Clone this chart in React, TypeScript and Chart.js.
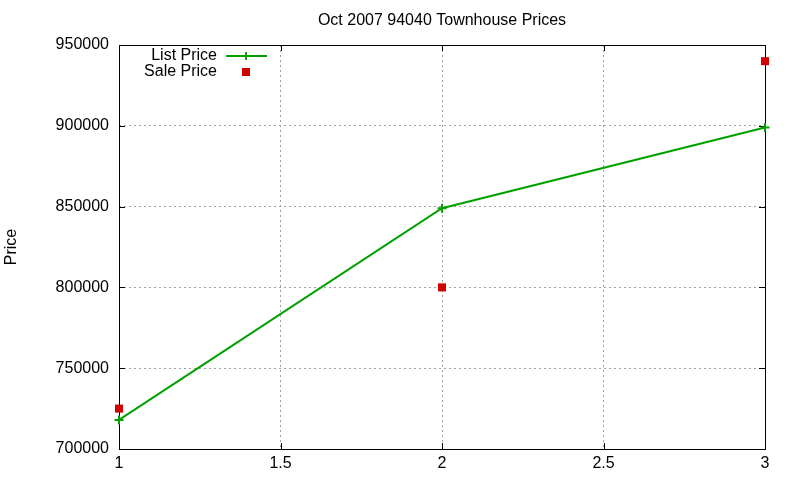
import { useEffect, useRef } from 'react';
import { Chart, registerables } from 'chart.js';

Chart.register(...registerables);

// data
const houseNumbers = [1, 2, 3];
const listPrices = [718000, 849000, 899000];
const salePrices = [725000, 800000, 940000];
const seriesNames = ['List Price', 'Sale Price'];

const titleText = 'Oct 2007 94040 Townhouse Prices';
const yTitle = 'Price';

const GREEN = '#00a000';
const RED = '#d40000';
const FONT = '"Liberation Sans", Arial, sans-serif';

// gnuplot-ish frame with inward ticks on all four sides, plus title and key
const framePlugin = {
  id: 'gnuFrame',
  beforeDatasetsDraw(chart: any) {
    const { ctx, chartArea: a, scales } = chart;
    const tl = 6;
    ctx.save();
    ctx.strokeStyle = '#000';
    ctx.lineWidth = 1;
    ctx.beginPath();
    scales.y.ticks.forEach((t: any) => {
      const y = Math.round(scales.y.getPixelForValue(t.value)) + 0.5;
      ctx.moveTo(a.left, y);
      ctx.lineTo(a.left + tl, y);
      ctx.moveTo(a.right, y);
      ctx.lineTo(a.right - tl, y);
    });
    scales.x.ticks.forEach((t: any) => {
      const x = Math.round(scales.x.getPixelForValue(t.value)) + 0.5;
      ctx.moveTo(x, a.bottom);
      ctx.lineTo(x, a.bottom - tl);
      ctx.moveTo(x, a.top);
      ctx.lineTo(x, a.top + tl);
    });
    ctx.stroke();
    ctx.strokeRect(Math.round(a.left) + 0.5, Math.round(a.top) + 0.5, Math.round(a.right - a.left), Math.round(a.bottom - a.top));
    ctx.restore();
  },
  afterDraw(chart: any) {
    const { ctx, chartArea: a } = chart;
    const ds = chart.data.datasets;
    ctx.save();
    ctx.font = '16px ' + FONT;
    ctx.fillStyle = '#000';
    // title centred over the plot area, like gnuplot
    ctx.textAlign = 'center';
    ctx.textBaseline = 'middle';
    ctx.fillText(titleText, (a.left + a.right) / 2, 21);
    // key
    ctx.textAlign = 'right';
    ctx.fillText(ds[0].label, 217, 56);
    ctx.fillText(ds[1].label, 217, 72);
    ctx.strokeStyle = GREEN;
    ctx.lineWidth = 2;
    ctx.beginPath();
    ctx.moveTo(226, 56);
    ctx.lineTo(267, 56);
    ctx.moveTo(246, 52);
    ctx.lineTo(246, 60);
    ctx.stroke();
    ctx.fillStyle = RED;
    ctx.fillRect(242, 68, 8, 8);
    ctx.restore();
  },
};

export default function App() {
  const canvasRef = useRef<HTMLCanvasElement>(null);

  useEffect(() => {
    document.body.style.margin = '0';
    if (!canvasRef.current) return;
    Chart.defaults.font.family = FONT;
    Chart.defaults.font.size = 16;
    Chart.defaults.color = '#000';

    const chart = new Chart(canvasRef.current, {
      type: 'line',
      data: {
        datasets: [
          {
            label: seriesNames[0],
            data: houseNumbers.map((x, i) => ({ x, y: listPrices[i] })),
            borderColor: GREEN,
            backgroundColor: GREEN,
            borderWidth: 2,
            pointStyle: 'cross',
            pointRadius: 4.5,
            pointBorderWidth: 2,
            pointBorderColor: GREEN,
            clip: false,
          },
          {
            label: seriesNames[1],
            data: houseNumbers.map((x, i) => ({ x, y: salePrices[i] })),
            showLine: false,
            backgroundColor: RED,
            borderColor: RED,
            pointStyle: 'rect',
            pointRadius: 5.7,
            pointBorderWidth: 0,
            clip: false,
          },
        ],
      },
      options: {
        responsive: false,
        animation: false,
        layout: { padding: { top: 45, right: 35, bottom: 0, left: 0 } },
        plugins: {
          legend: { display: false },
          tooltip: { enabled: false },
          title: { display: false },
        },
        scales: {
          x: {
            type: 'linear',
            min: 1,
            max: 3,
            ticks: {
              stepSize: 0.5,
              padding: 5,
              maxRotation: 0,
              callback: (v: any) => String(v),
            },
            grid: { color: '#a0a0a0', drawTicks: false },
            border: { display: false, dash: [2, 3] },
            afterFit: (s: any) => { s.height = 31; },
          },
          y: {
            min: 700000,
            max: 950000,
            ticks: {
              stepSize: 50000,
              padding: 10,
              callback: (v: any) => String(v),
            },
            grid: { color: '#a0a0a0', drawTicks: false },
            border: { display: false, dash: [2, 3] },
            title: {
              display: true,
              text: yTitle,
              font: { size: 16, family: FONT },
              padding: { top: 2, bottom: 0 },
            },
            afterFit: (s: any) => { s.width = 119; },
          },
        },
      },
      plugins: [framePlugin],
    });
    return () => chart.destroy();
  }, []);

  return (
    <div style={{ width: 800, height: 480, background: '#fff' }}>
      <canvas ref={canvasRef} width={800} height={480} />
    </div>
  );
}
